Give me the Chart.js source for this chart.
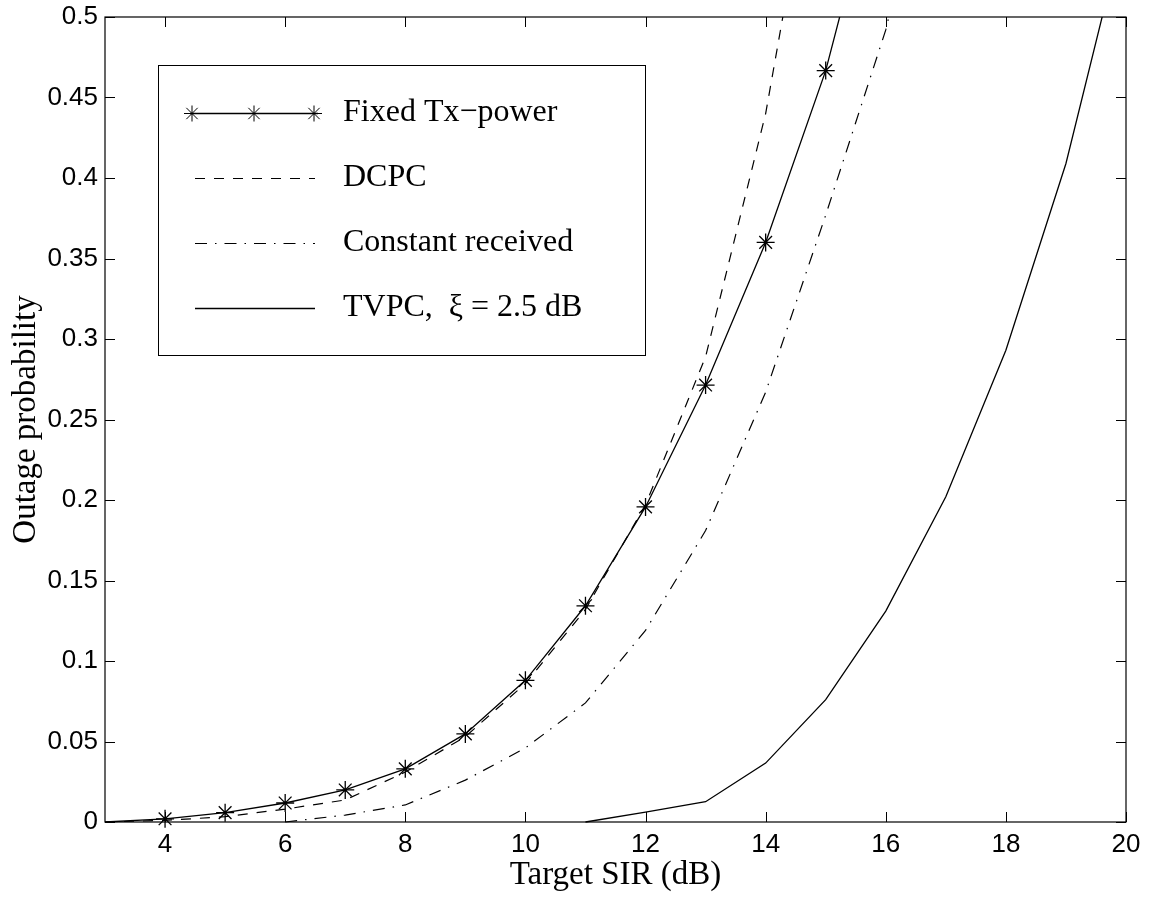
<!DOCTYPE html>
<html lang="en">
<head>
  <meta charset="UTF-8" />
  <title>Outage probability vs target SIR</title>
  <script src="https://cdn.jsdelivr.net/npm/chart.js"></script>
  <style>
    body {
      margin: 0;
      background: #fff;
    }
    #wrap {
      width: 1153px;
      height: 897px;
    }
  </style>
</head>
<body>

<div id="wrap">
  <canvas id="outage" width="1153" height="897"></canvas>
</div>

<script>
  // values
  const fixedSir = [3, 4, 5, 6, 7, 8, 9, 10, 11, 12, 13, 14, 15, 16];
  const fixedOut = [0, 0.002, 0.0058, 0.0118, 0.0199, 0.033, 0.0547, 0.088, 0.1343, 0.1957, 0.2714, 0.360, 0.4667, 0.61];

  const dcpcSir = [3, 4, 5, 6, 7, 8, 9, 10, 11, 12, 13, 14, 15];
  const dcpcOut = [0, 0.001, 0.0033, 0.008, 0.0137, 0.031, 0.053, 0.086, 0.132, 0.197, 0.289, 0.44, 0.65];

  const constSir = [6, 7, 8, 9, 10, 11, 12, 13, 14, 15, 16, 17];
  const constOut = [0, 0.0043, 0.0106, 0.026, 0.046, 0.074, 0.119, 0.181, 0.267, 0.377, 0.492, 0.65];

  const tvpcSir = [11, 12, 13, 14, 15, 16, 17, 18, 19, 20];
  const tvpcOut = [0, 0.0062, 0.0126, 0.0366, 0.076, 0.131, 0.202, 0.293, 0.409, 0.56];

  const seriesNames = ["Fixed Tx\u2212power", "DCPC", "Constant received", "TVPC,  \u03BE = 2.5 dB"];

  const xTicks = [4, 6, 8, 10, 12, 14, 16, 18, 20];
  const yTicks = [0, 0.05, 0.1, 0.15, 0.2, 0.25, 0.3, 0.35, 0.4, 0.45, 0.5];
  const yTickLabels = ["0", "0.05", "0.1", "0.15", "0.2", "0.25", "0.3", "0.35", "0.4", "0.45", "0.5"];

  const sans = '"Liberation Sans", Arial, Helvetica, sans-serif';
  const serif = '"Liberation Serif", "Times New Roman", Times, serif';

  function pts(xs, ys) {
    return xs.map((x, i) => ({ x: x, y: ys[i] }));
  }

  // matlab style box, inward ticks on all four sides, and the legend inside the axes
  const matlabFrame = {
    id: 'matlabFrame',
    afterDraw(chart) {
      const ctx = chart.ctx;
      const a = chart.chartArea;
      const xs = chart.scales.x;
      const ys = chart.scales.y;
      const tl = 10;

      ctx.save();
      ctx.strokeStyle = '#000';
      ctx.lineWidth = 1.2;
      ctx.strokeRect(a.left, a.top, a.right - a.left, a.bottom - a.top);

      ctx.beginPath();
      xTicks.forEach(v => {
        const px = Math.round(xs.getPixelForValue(v)) + 0.5;
        ctx.moveTo(px, a.bottom); ctx.lineTo(px, a.bottom - tl);
        ctx.moveTo(px, a.top); ctx.lineTo(px, a.top + tl);
      });
      yTicks.forEach(v => {
        const py = Math.round(ys.getPixelForValue(v)) + 0.5;
        ctx.moveTo(a.left, py); ctx.lineTo(a.left + tl, py);
        ctx.moveTo(a.right, py); ctx.lineTo(a.right - tl, py);
      });
      ctx.lineWidth = 1;
      ctx.stroke();

      // legend
      const bx = 158, by = 65, bw = 487, bh = 290;
      ctx.fillStyle = '#fff';
      ctx.fillRect(bx, by, bw, bh);
      ctx.lineWidth = 1;
      ctx.strokeRect(bx + 0.5, by + 0.5, bw, bh);

      const rows = [113, 178, 243, 308];
      chart.data.datasets.forEach((ds, i) => {
        const y = rows[i] + 0.5;
        ctx.save();
        ctx.strokeStyle = ds.borderColor;
        ctx.lineWidth = ds.borderWidth;
        ctx.setLineDash(ds.borderDash || []);
        ctx.beginPath();
        if (i === 0) {
          ctx.moveTo(190, y); ctx.lineTo(318, y);
        } else {
          ctx.moveTo(195, y); ctx.lineTo(315, y);
        }
        ctx.stroke();
        ctx.restore();
        if (i === 0) {
          [192, 254, 314].forEach(mx => {
            Chart.helpers.drawPoint(ctx, {
              pointStyle: 'star', radius: 8, borderWidth: 1.2
            }, mx, y);
          });
        }
        ctx.fillStyle = '#000';
        ctx.font = '32px ' + serif;
        ctx.textAlign = 'left';
        ctx.textBaseline = 'middle';
        ctx.fillText(ds.label, 343, rows[i]);
      });
      ctx.restore();
    }
  };

  const ctx = document.getElementById('outage');

  new Chart(ctx, {
    type: 'line',
    data: {
      datasets: [
        {
          label: seriesNames[0],
          data: pts(fixedSir, fixedOut),
          borderColor: '#000',
          backgroundColor: '#000',
          borderWidth: 1.3,
          pointStyle: 'star',
          pointRadius: fixedSir.map((x, i) => (i === 0 || i === fixedSir.length - 1) ? 0 : 9),
          pointBorderWidth: 1.3,
          pointBorderColor: '#000',
          clip: { left: 0, right: 0, top: 0, bottom: 10 }
        },
        {
          label: seriesNames[1],
          data: pts(dcpcSir, dcpcOut),
          borderColor: '#000',
          borderWidth: 1.2,
          borderDash: [10, 9],
          pointRadius: 0,
          clip: { left: 0, right: 0, top: 0, bottom: 2 }
        },
        {
          label: seriesNames[2],
          data: pts(constSir, constOut),
          borderColor: '#000',
          borderWidth: 1.2,
          borderDash: [12, 8, 1.5, 8],
          pointRadius: 0,
          clip: { left: 0, right: 0, top: 0, bottom: 2 }
        },
        {
          label: seriesNames[3],
          data: pts(tvpcSir, tvpcOut),
          borderColor: '#000',
          borderWidth: 1.3,
          pointRadius: 0,
          clip: { left: 0, right: 0, top: 0, bottom: 2 }
        }
      ]
    },
    options: {
      responsive: false,
      animation: false,
      layout: {
        padding: { left: 0, right: 27, top: 17, bottom: 0 }
      },
      plugins: {
        legend: { display: false },
        tooltip: { enabled: false }
      },
      scales: {
        x: {
          type: 'linear',
          min: 3,
          max: 20,
          grid: { display: false, drawTicks: false },
          border: { display: false },
          afterBuildTicks: axis => {
            axis.ticks = xTicks.map(v => ({ value: v }));
          },
          afterFit: axis => {
            axis.height = 75;
            axis.paddingLeft = 0;
            axis.paddingRight = 0;
          },
          ticks: {
            padding: 7,
            color: '#000',
            font: { family: sans, size: 26 },
            maxRotation: 0,
            autoSkip: false,
            callback: v => String(v)
          },
          title: {
            display: true,
            text: 'Target SIR (dB)',
            color: '#000',
            font: { family: serif, size: 33 },
            padding: { top: 0, bottom: 2 }
          }
        },
        y: {
          type: 'linear',
          min: 0,
          max: 0.5,
          grid: { display: false, drawTicks: false },
          border: { display: false },
          afterBuildTicks: axis => {
            axis.ticks = yTicks.map(v => ({ value: v }));
          },
          afterFit: axis => {
            axis.width = 105;
            axis.paddingTop = 0;
            axis.paddingBottom = 0;
          },
          ticks: {
            padding: 7,
            color: '#000',
            font: { family: sans, size: 26 },
            autoSkip: false,
            callback: (v, i) => yTickLabels[i]
          },
          title: {
            display: true,
            text: 'Outage probability',
            color: '#000',
            font: { family: serif, size: 33 },
            padding: { top: 7, bottom: 0 }
          }
        }
      }
    },
    plugins: [matlabFrame]
  });
</script>

</body>
</html>
